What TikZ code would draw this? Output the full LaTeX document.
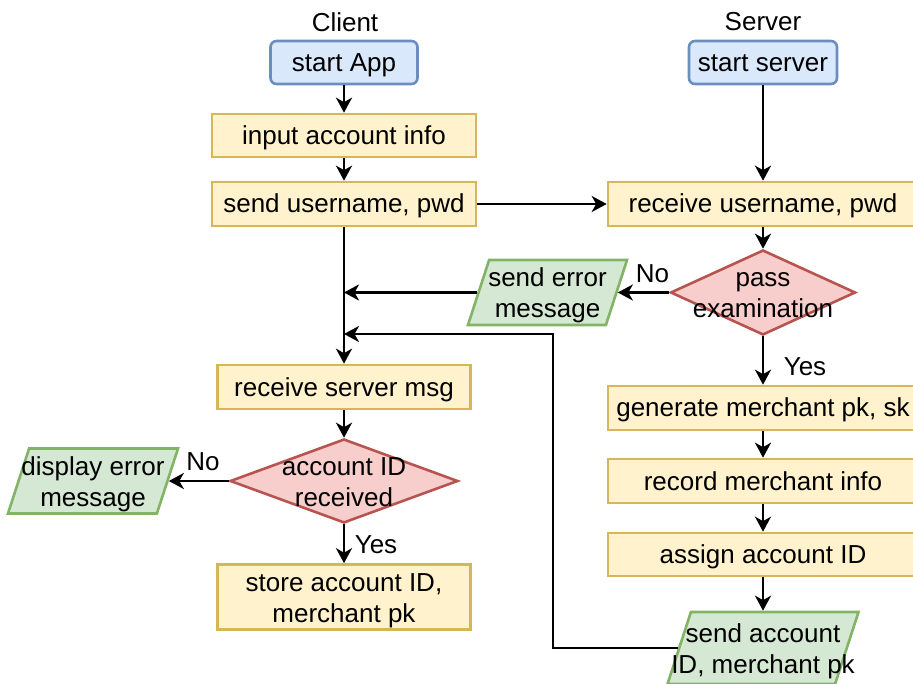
\documentclass[tikz,border=0pt]{standalone}
\usepackage{fontspec}
\setmainfont{Liberation Sans}
\usetikzlibrary{shapes.geometric,arrows.meta}

\definecolor{bfill}{HTML}{DAE8FC}
\definecolor{bstroke}{HTML}{6C8EBF}
\definecolor{yfill}{HTML}{FFF2CC}
\definecolor{ystroke}{HTML}{D6B656}
\definecolor{rfill}{HTML}{F8CECC}
\definecolor{rstroke}{HTML}{B85450}
\definecolor{gfill}{HTML}{D5E8D4}
\definecolor{gstroke}{HTML}{82B366}

\begin{document}
\begin{tikzpicture}[x=1pt,y=-1pt,
  font=\fontsize{26}{31}\selectfont,
  base/.style={draw, line width=2.6pt, inner sep=0pt, align=center},
  oneline/.style={text height=22pt, text depth=4pt},
  % two centred lines: the box sits on the baseline of the last line
  twoline/.style={align=center, text height=52pt, text depth=2pt},
  proc/.style={base, rectangle, fill=yfill, draw=ystroke},
  term/.style={base, rectangle, rounded corners=6pt, fill=bfill, draw=bstroke},
  dec/.style={base, diamond, fill=rfill, draw=rstroke},
  % parallelogram: empty body sized by inner sep, sides at 72 degrees
  io/.style={base, trapezium, trapezium left angle=72, trapezium right angle=108,
             fill=gfill, draw=gstroke},
  arr/.style={line width=2.8pt, -{Stealth[length=15pt,width=16pt,inset=4.5pt]}},
  lbl/.style={inner sep=0pt}]

\useasboundingbox (0,0) rectangle (913,684);

% lane titles
\node[lbl] (client) at (345,22) {Client};
\node[lbl] (server) at (763,22) {Server};

% client column
\node[term, oneline, minimum width=147pt, minimum height=43pt] (app) at (344,62.5) {start App};
\node[proc, oneline, minimum width=264pt, minimum height=43pt] (input) at (344,135.5) {input account info};
\node[proc, oneline, minimum width=264pt, minimum height=44pt] (send) at (344,204) {send username, pwd};
\node[proc, oneline, minimum width=253pt, minimum height=44pt] (rmsg) at (344,387) {receive server msg};
\node[dec, minimum width=228pt, minimum height=84pt,
      label={[twoline]center:account ID\\received}] (acct) at (344,481) {};
\node[io, inner xsep=63.9pt, inner ysep=32.5pt,
      label={[twoline]center:display error\\message}] (err2) at (93,481) {};
\node[proc, twoline, minimum width=253pt, minimum height=65pt] (store) at (344,597) {store account ID,\\merchant pk};

% server column
\node[term, oneline, minimum width=148pt, minimum height=43pt] (srv) at (763,62.5) {start server};
\node[proc, oneline, minimum width=310pt, minimum height=44pt] (recv) at (763,204) {receive username, pwd};
\node[dec, minimum width=185pt, minimum height=85pt,
      label={[twoline]center:pass\\examination}] (pass) at (763,292.5) {};
\node[io, inner xsep=58.4pt, inner ysep=32.5pt,
      label={[twoline]center:send error\\message}] (err1) at (547.5,292.5) {};
\node[proc, oneline, minimum width=310pt, minimum height=44pt] (gen) at (763,408) {generate merchant pk, sk};
\node[proc, oneline, minimum width=310pt, minimum height=44pt] (rec) at (763,481) {record merchant info};
\node[proc, oneline, minimum width=310pt, minimum height=43pt] (assign) at (763,554.5) {assign account ID};
\node[io, inner xsep=72.1pt, inner ysep=36pt,
      label={[twoline]center:send account\\ID, merchant pk}] (sid) at (763,648) {};

% branch labels
\node[lbl] (no1) at (652.5,273.5) {No};
\node[lbl] (yes1) at (805,366.5) {Yes};
\node[lbl] (no2) at (203,461.5) {No};
\node[lbl] (yes2) at (376,545) {Yes};

% client flow
\draw[arr] (app) -- (input);
\draw[arr] (input) -- (send);
\draw[arr] (send) -- (rmsg);
\draw[arr] (rmsg) -- (acct);
\draw[arr] (acct.west) -- (err2.east);
\draw[arr] (acct) -- (store);

% server flow
\draw[arr] (send) -- (recv);
\draw[arr] (srv) -- (recv);
\draw[arr] (recv) -- (pass);
\draw[arr] (pass.west) -- (err1.east);
\draw[arr] (err1.west) -- (err1.west -| send.south);
\draw[arr] (pass) -- (gen);
\draw[arr] (gen) -- (rec);
\draw[arr] (rec) -- (assign);
\draw[arr] (assign) -- (sid);

% reply back to the client
\coordinate (bend) at (553,334);
\draw[arr] (sid.west) -| (bend) -- (bend -| send.south);

\end{tikzpicture}
\end{document}
